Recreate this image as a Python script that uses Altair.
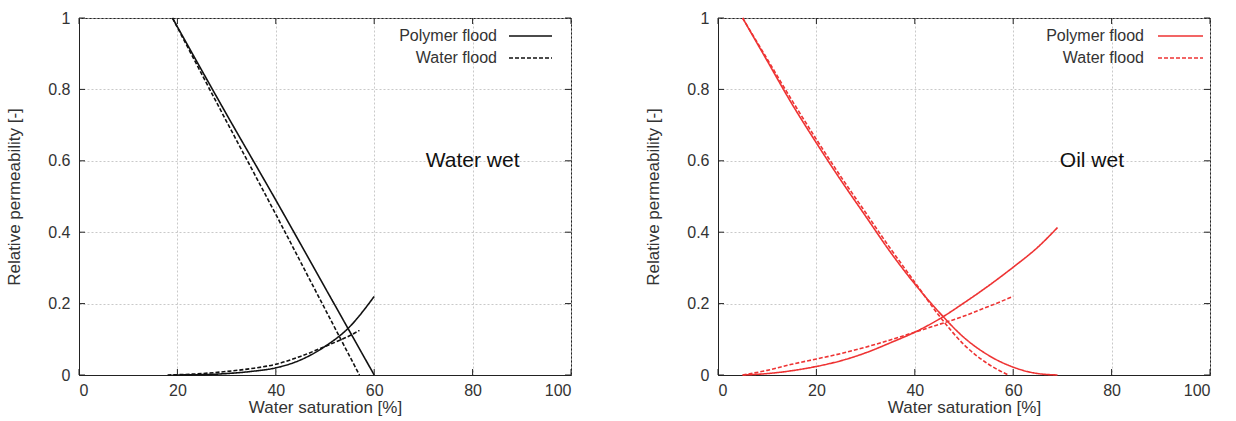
import altair as alt
import pandas as pd

# ---- data ----
ww_poly_kro_sw = [19, 30, 40, 50, 60]
ww_poly_kro = [1.0, 0.73, 0.49, 0.245, 0.0]
ww_water_kro_sw = [19, 30, 40, 50, 57]
ww_water_kro = [1.0, 0.71, 0.45, 0.185, 0.0]
ww_poly_krw_sw = [19, 25, 30, 35, 40, 45, 50, 55, 60]
ww_poly_krw = [0.0, 0.001, 0.004, 0.01, 0.02, 0.042, 0.08, 0.135, 0.22]
ww_water_krw_sw = [18, 25, 30, 35, 40, 45, 50, 55, 57]
ww_water_krw = [0.0, 0.004, 0.01, 0.018, 0.03, 0.052, 0.08, 0.11, 0.125]

ow_poly_kro_sw = [5, 10, 15, 20, 25, 30, 35, 40, 45, 50, 55, 60, 65, 69]
ow_poly_kro = [1.0, 0.88, 0.76, 0.65, 0.545, 0.445, 0.345, 0.255, 0.175, 0.105, 0.055, 0.022, 0.004, 0.0]
ow_water_kro_sw = [5, 10, 15, 20, 25, 30, 35, 40, 45, 50, 55, 59]
ow_water_kro = [1.0, 0.885, 0.77, 0.66, 0.555, 0.455, 0.355, 0.26, 0.165, 0.085, 0.03, 0.0]
ow_poly_krw_sw = [5, 10, 15, 20, 25, 30, 35, 40, 45, 50, 55, 60, 65, 69]
ow_poly_krw = [0.0, 0.004, 0.012, 0.024, 0.04, 0.062, 0.09, 0.12, 0.157, 0.202, 0.25, 0.302, 0.358, 0.413]
ow_water_krw_sw = [5, 10, 15, 20, 25, 30, 35, 40, 45, 50, 55, 60]
ow_water_krw = [0.0, 0.013, 0.03, 0.045, 0.06, 0.078, 0.098, 0.12, 0.142, 0.165, 0.192, 0.22]

floods = ["Polymer flood", "Water flood"]
x_ticks = [0, 20, 40, 60, 80, 100]
y_ticks = [0, 0.2, 0.4, 0.6, 0.8, 1.0]


def frame(parts):
    rows = []
    for sw, kr, curve, flood in parts:
        for a, b in zip(sw, kr):
            rows.append({"sw": a, "kr": b, "curve": curve, "flood": flood})
    return pd.DataFrame(rows)


ww = frame([
    (ww_poly_kro_sw, ww_poly_kro, "kro", floods[0]),
    (ww_water_kro_sw, ww_water_kro, "kro", floods[1]),
    (ww_poly_krw_sw, ww_poly_krw, "krw", floods[0]),
    (ww_water_krw_sw, ww_water_krw, "krw", floods[1]),
])
ow = frame([
    (ow_poly_kro_sw, ow_poly_kro, "kro", floods[0]),
    (ow_water_kro_sw, ow_water_kro, "kro", floods[1]),
    (ow_poly_krw_sw, ow_poly_krw, "krw", floods[0]),
    (ow_water_krw_sw, ow_water_krw, "krw", floods[1]),
])

FONT = "Liberation Sans"
TXT = "#333333"
W, H = 492, 357
DASHES = [[1, 0], [4, 2]]
XS = alt.Scale(domain=[0, 100], nice=False)
YS = alt.Scale(domain=[0, 1], nice=False)


def panel(df, color, label, label_x, leg_text_x, leg_line_x1, leg_line_x2):
    x = alt.X("sw:Q", scale=XS,
              axis=alt.Axis(title="Water saturation [%]", values=x_ticks, format="d"))
    y = alt.Y("kr:Q", scale=YS,
              axis=alt.Axis(title="Relative permeability [-]", values=y_ticks, format=".1~f"))
    lines = alt.Chart(df).mark_line(color=color, strokeWidth=1.6, interpolate="monotone").encode(
        x=x, y=y,
        detail="curve:N",
        strokeDash=alt.StrokeDash("flood:N", scale=alt.Scale(domain=floods, range=DASHES), legend=None),
        order="sw:Q",
    )
    ann = alt.Chart(pd.DataFrame({"sw": [label_x], "kr": [0.6], "t": [label]})).mark_text(
        font=FONT, fontSize=21, color="#111111", align="center", baseline="middle"
    ).encode(x="sw:Q", y="kr:Q", text="t:N")
    xt = pd.DataFrame({"sw": x_ticks})
    yt = pd.DataFrame({"kr": y_ticks})
    tick_style = dict(color="#222222", strokeWidth=1)
    ticks = [
        alt.Chart(xt).mark_rule(**tick_style).encode(x=alt.X("sw:Q", scale=XS), y=alt.value(H), y2=alt.value(H - 6)),
        alt.Chart(xt).mark_rule(**tick_style).encode(x=alt.X("sw:Q", scale=XS), y=alt.value(0), y2=alt.value(6)),
        alt.Chart(yt).mark_rule(**tick_style).encode(y=alt.Y("kr:Q", scale=YS), x=alt.value(0), x2=alt.value(6)),
        alt.Chart(yt).mark_rule(**tick_style).encode(y=alt.Y("kr:Q", scale=YS), x=alt.value(W - 6), x2=alt.value(W)),
    ]
    layers = [lines, ann] + ticks
    for i, (fl, ypix) in enumerate(zip(floods, [18, 40])):
        one = pd.DataFrame({"flood": [fl]})
        layers.append(alt.Chart(one).mark_text(
            font=FONT, fontSize=16, color=TXT, align="right", baseline="middle"
        ).encode(x=alt.value(leg_text_x), y=alt.value(ypix), text="flood:N"))
        layers.append(alt.Chart(one).mark_rule(
            color=color, strokeWidth=1.6, strokeDash=DASHES[i]
        ).encode(x=alt.value(leg_line_x1), x2=alt.value(leg_line_x2), y=alt.value(ypix)))
    return alt.layer(*layers).properties(width=W, height=H)


left = panel(ww, "#111111", "Water wet", 80, 418, 430, 473)
right = panel(ow, "#ee3333", "Oil wet", 76, 426, 440, 485)

chart = alt.hconcat(left, right, spacing=72).properties(
    padding={"left": 5, "top": 9, "right": 5, "bottom": 5}
).configure_view(
    stroke="#222222", strokeWidth=1
).configure_axis(
    labelFont=FONT, titleFont=FONT, labelFontSize=16, titleFontSize=17,
    labelColor=TXT, titleColor=TXT, titleFontWeight="normal",
    grid=True, gridColor="#bbbbbb", gridDash=[2, 2], gridWidth=0.8,
    domainColor="#222222", ticks=False, labelPadding=9,
).configure_axisY(titlePadding=24).configure_axisX(titlePadding=1, labelPadding=7)

chart.save("out.html", embed_options={"renderer": "svg", "actions": False})
